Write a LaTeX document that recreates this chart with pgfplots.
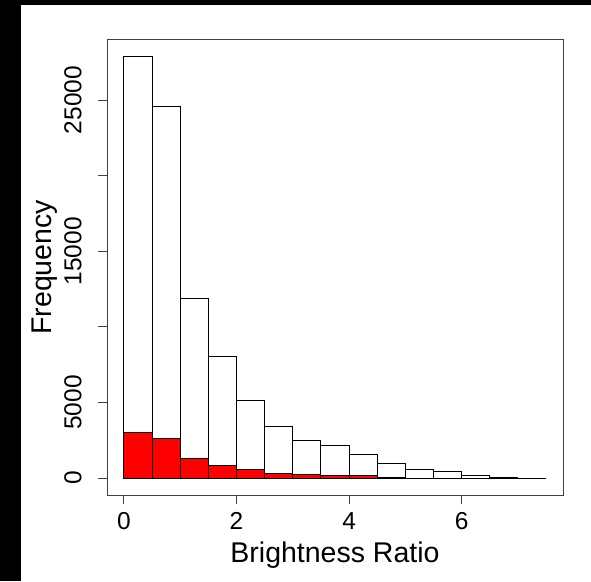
\documentclass[border=0pt]{standalone}
\usepackage{pgfplots}
\pgfplotsset{compat=1.18}
\usepackage{fontspec}
\setmainfont{Liberation Sans}

% histogram bins (left edge, count); last row closes the final interval
\pgfplotstableread{
x     all
0     27884
0.5   24603
1     11905
1.5   8069
2     5132
2.5   3393
3     2513
3.5   2136
4     1561
4.5   992
5     595
5.5   437
6     180
6.5   70
7     0
7.5   0
}\allbins
\pgfplotstableread{
x     sel
0     2990
0.5   2593
1     1310
1.5   847
2     542
2.5   278
3     212
3.5   185
4     146
4.5   30
5     0
5.5   0
6     0
6.5   0
7     0
}\selbins

\begin{document}
\begin{tikzpicture}[x=1pt,y=1pt]
\fill[white] (-107,-86) rectangle (484,495);
\fill[black] (-107,-86) rectangle (-86,495);
\fill[black] (-107,490) rectangle (484,495);
\useasboundingbox (-107,-86) rectangle (484,495);
\begin{axis}[
  at={(0,0)}, anchor=south west,
  scale only axis, width=456pt, height=455.3pt,
  xmin=-0.3, xmax=7.8, ymin=-1115, ymax=29000,
  axis line style={draw=black!75, line width=1pt},
  xtick={0,2,4,6}, xticklabels={0,2,4,6},
  ytick={0,5000,10000,15000,20000,25000},
  yticklabels={0,5000,,15000,,25000},
  xtick pos=left, ytick pos=left,
  tick align=outside, major tick length=9pt,
  tick style={draw=black!75, line width=1pt},
  scaled y ticks=false,
  tick label style={font=\fontsize{24.5}{29}\selectfont},
  xticklabel style={anchor=center, yshift=-17pt},
  yticklabel style={xshift=-25pt, rotate=90, anchor=center},
  label style={font=\fontsize{28.5}{34}\selectfont},
  xlabel={Brightness Ratio},
  ylabel={Frequency},
  xlabel style={at={(axis description cs:0.5,-0.1331)}, anchor=center},
  ylabel style={at={(axis description cs:-0.136,0.5)}, anchor=center},
]
\addplot[ybar interval, fill=white, draw=black, line width=1pt] table[x=x, y=all] {\allbins};
\addplot[ybar interval, fill=red, draw=black, line width=1pt] table[x=x, y=sel] {\selbins};
\end{axis}
\end{tikzpicture}
\end{document}
